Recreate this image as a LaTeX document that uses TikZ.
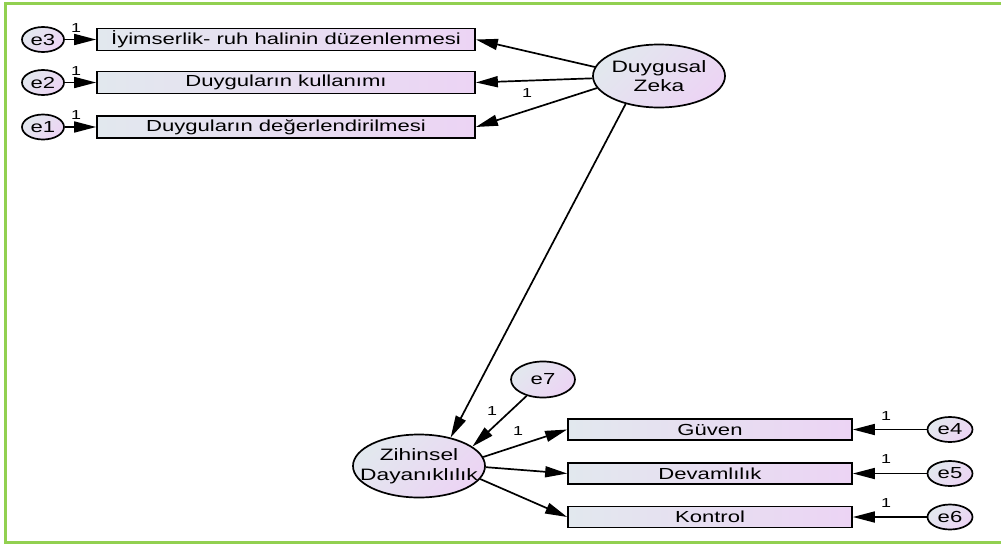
\documentclass[tikz,border=0pt]{standalone}
\usepackage{fontspec}
\setmainfont{Liberation Sans}[FakeStretch=1.38]
\usetikzlibrary{arrows.meta,shapes.geometric}
\definecolor{framegreen}{RGB}{146,208,80}
\definecolor{cA}{RGB}{226,232,238}
\definecolor{cB}{RGB}{236,212,244}
\tikzset{
  obsbox/.style={draw, line width=1.7pt, rectangle, minimum height=22pt, inner sep=0pt,
    left color=cA, right color=cB, font=\fontsize{16}{18}\selectfont},
  errnode/.style={draw, ellipse, line width=1.7pt, minimum width=42pt, minimum height=25pt,
    inner sep=0pt, top color=cA, bottom color=cB, shading angle=45, font=\fontsize{16}{18}\selectfont},
  latnode/.style={draw, ellipse, line width=1.7pt, minimum width=132pt, minimum height=63pt,
    inner sep=0pt, top color=cA, bottom color=cB, shading angle=45},
  lattext/.style={align=center, inner sep=0pt, font=\fontsize{16.5}{19.5}\selectfont},
  arr/.style={-{Triangle[length=22pt,width=11pt]}, line width=1.7pt},
  one/.style={font=\fontsize{13}{14}\selectfont, inner sep=0pt}
}
\begin{document}
\begin{tikzpicture}[x=1pt,y=-1pt]
\useasboundingbox (0,0) rectangle (1001,544);
\draw[framegreen, line width=3pt] (1001,3.5) -- (5.5,3.5) -- (5.5,542.5) -- (1001,542.5);

% top indicators
\node[obsbox, minimum width=378pt] (r3) at (286,39.5) {İyimserlik- ruh halinin düzenlenmesi};
\node[obsbox, minimum width=378pt] (r2) at (286,82.5) {Duyguların kullanımı};
\node[obsbox, minimum width=378pt] (r1) at (286,127) {Duyguların değerlendirilmesi};
\node[errnode] (e3) at (43,39.5) {e3};
\node[errnode] (e2) at (43,82.5) {e2};
\node[errnode] (e1) at (43,127) {e1};

% latent variables
\node[latnode, label={[lattext]center:Duygusal\\Zeka}] (dz) at (659,76) {};
\node[latnode, label={[lattext]center:Zihinsel\\Dayanıklılık}] (zd) at (419,466) {};
\node[errnode, minimum width=64pt, minimum height=36pt] (e7) at (543,379.5) {e7};

% bottom indicators
\node[obsbox, minimum width=284pt, minimum height=21pt] (g) at (710,429.5) {Güven};
\node[obsbox, minimum width=284pt, minimum height=21pt] (d) at (710,473.5) {Devamlılık};
\node[obsbox, minimum width=284pt, minimum height=21pt] (k) at (710,517) {Kontrol};
\node[errnode, minimum width=45pt] (e4) at (950,429.5) {e4};
\node[errnode, minimum width=45pt] (e5) at (950,473.5) {e5};
\node[errnode, minimum width=45pt] (e6) at (950,517) {e6};

% connectors
\draw[arr] (e3) -- (r3);
\draw[arr] (e2) -- (r2);
\draw[arr] (e1) -- (r1);
\draw[arr] (dz.172) -- (r3.east);
\draw[arr] (dz.182) -- (r2.east);
\draw[arr] (dz.191) -- (r1.east);
\draw[arr] (dz.220) -- (zd.42);
\draw[arr] (e7.225) -- (zd.20);
\draw[arr] (zd.8) -- (g.west);
\draw[arr] (zd.-1) -- (d.west);
\draw[arr] (zd.-12) -- (k.west);
\draw[arr] (e4) -- (g);
\draw[arr] (e5) -- (d);
\draw[arr] (e6) -- (k);

% labels
\node[one] (l3) at (76,28.5) {1};
\node[one] (l2) at (76,71.5) {1};
\node[one] (l1) at (76,115.5) {1};
\node[one] (ldz) at (527,93) {1};
\node[one] (le7) at (492,411) {1};
\node[one] (lg) at (518,431) {1};
\node[one] (l4) at (886,416) {1};
\node[one] (l5) at (886,459) {1};
\node[one] (l6) at (886,503) {1};
\end{tikzpicture}
\end{document}
